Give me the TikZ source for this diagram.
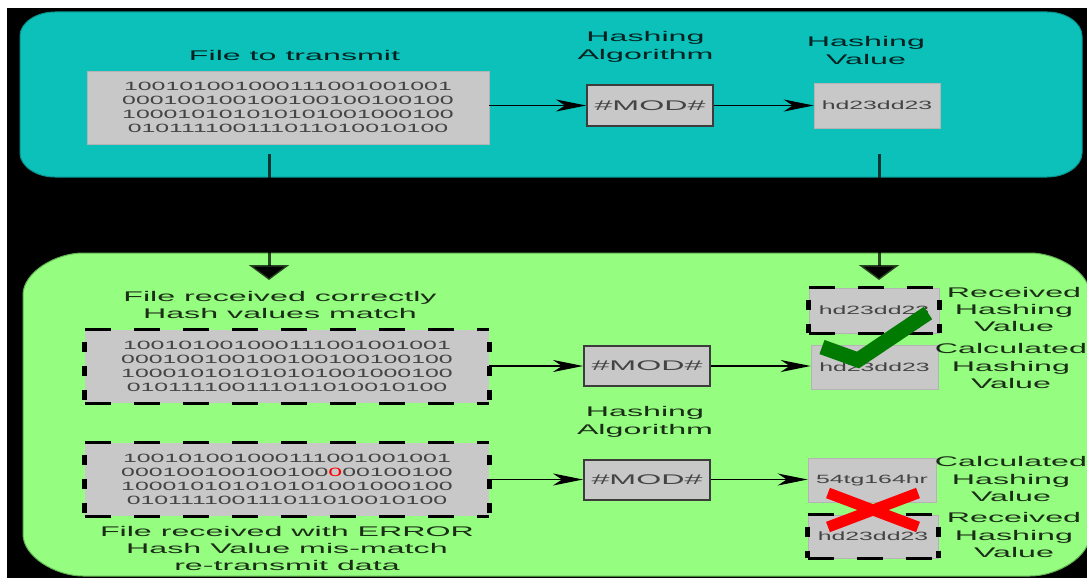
\documentclass[tikz,border=0pt]{standalone}
\usepackage{fontspec}
\setmainfont{Liberation Sans}
\newfontfamily\labfont[FakeStretch=2.3]{Liberation Sans}
\newfontfamily\binfont[FakeStretch=2.07]{Liberation Sans}
\usetikzlibrary{arrows.meta}
\definecolor{tealbg}{HTML}{0BC1BA}
\definecolor{tealedge}{HTML}{08948E}
\definecolor{greenbg}{HTML}{95FD7F}
\definecolor{greenedge}{HTML}{62B552}
\definecolor{boxgray}{HTML}{C8C8C8}
\definecolor{boxedge}{HTML}{B4B4B4}
\definecolor{bintext}{HTML}{444444}
\definecolor{modedge}{HTML}{3C3C3C}
\definecolor{checkgreen}{HTML}{007A00}
\newcommand\dashborder[1]{%
  \draw[hdash] (#1.north west) -- (#1.north east);
  \draw[hdash] (#1.south west) -- (#1.south east);
  \draw[vdash] (#1.north west) -- (#1.south west);
  \draw[vdash] (#1.north east) -- (#1.south east);}
\begin{document}
\begin{tikzpicture}[x=1pt,y=-1pt,
  lab/.style={font={\labfont\fontsize{14pt}{17.3pt}\selectfont}, align=center,
    text=black, text opacity=0.82, inner sep=0pt},
  binbox/.style={fill=boxgray, minimum width=404pt, minimum height=73pt, inner sep=0pt,
    font={\binfont\fontsize{12pt}{14.2pt}\selectfont}, align=center, text=bintext},
  modbox/.style={fill=boxgray, draw=modedge, line width=2pt, minimum width=126pt,
    minimum height=40pt, inner sep=0pt, font={\labfont\fontsize{14pt}{17pt}\selectfont},
    text=bintext},
  hashbox/.style={fill=boxgray, draw=boxedge, line width=0.6pt, minimum width=127pt,
    minimum height=44pt, inner sep=0pt, font={\binfont\fontsize{12pt}{14pt}\selectfont},
    text=bintext},
  hdash/.style={line width=3pt, dash pattern=on 26pt off 23pt},
  vdash/.style={line width=5pt, dash pattern=on 10pt off 14pt, dash phase=12pt},
  arr/.style={line width=1.2pt, -{Stealth[length=30pt,width=12pt,inset=9pt]}},
  downconn/.style={line width=3pt, draw=black, draw opacity=0.72,
    -{Triangle[width=40pt,length=15pt]}},
  checkmark/.style={draw=checkgreen, line width=15pt, line join=miter, line cap=butt},
  crossmark/.style={draw=red, line width=11pt, line cap=butt}]
\useasboundingbox (0,0) rectangle (1087,578);
% background
\fill[white] (0,0) rectangle (1087,578);
\fill[black] (7,8) rectangle (1087,578);
% teal panel
\filldraw[fill=tealbg, draw=tealedge, line width=1pt]
  (55,12) -- (1047,12) .. controls (1066,12) and (1082,23) .. (1082,36)
  -- (1082,153) .. controls (1082,166) and (1066,177) .. (1047,177)
  -- (55,177) .. controls (36,177) and (20,166) .. (20,153)
  -- (20,36) .. controls (20,23) and (36,12) .. cycle;
% green panel
\filldraw[fill=greenbg, draw=greenedge, line width=1pt]
  (83,253) -- (1030,253) .. controls (1057,253) and (1090,272) .. (1090,295)
  -- (1090,534) .. controls (1090,557) and (1057,576) .. (1030,576)
  -- (83,576) .. controls (56,576) and (23,557) .. (23,534)
  -- (23,295) .. controls (23,272) and (56,253) .. cycle;
% connectors between panels
\coordinate (d1s) at (269,154);
\coordinate (d1e) at (269,280);
\coordinate (d2s) at (879,154);
\coordinate (d2e) at (879,280);
\draw[downconn] (d1s) -- (d1e);
\draw[downconn] (d2s) -- (d2e);
% top panel
\node[lab] (filelab) at (294.5,55) {File to transmit};
\node[binbox, minimum width=402pt, minimum height=73pt, draw=boxedge, line width=0.8pt]
  (file) at (288,107.5)
  {100101001000111001001001\\000100100100100100100100\\100010101010101001000100\\010111100111011010010100};
\node[lab] (algolab0) at (645.5,47) {Hashing\\Algorithm};
\node[modbox, minimum height=41pt] (mod0) at (650,105.5) {\#MOD\#};
\node[lab] (hashlab0) at (866,50.5) {Hashing\\Value};
\node[hashbox, minimum width=126pt, minimum height=45pt] (hash0) at (877,105.5) {hd23dd23};
\draw[arr] (mod0.west -| file.east) -- (mod0.west);
\draw[arr] (mod0.east) -- (hash0.west);
% bottom panel, correct file
\node[lab] (oklab) at (280,305) {File received correctly\\Hash values match};
\node[binbox] (okfile) at (287,366.5)
  {100101001000111001001001\\000100100100100100100100\\100010101010101001000100\\010111100111011010010100};
\dashborder{okfile}
\node[modbox] (mod1) at (647,366) {\#MOD\#};
\node[lab] (algolab1) at (645,422) {Hashing\\Algorithm};
\node[hashbox, minimum width=130pt, minimum height=45pt] (recv1) at (874,310.5) {hd23dd23};
\dashborder{recv1}
\node[hashbox] (calc1) at (874.5,367) {hd23dd23};
\node[lab] (recvlab1) at (1014,309.5) {Received\\Hashing\\Value};
\node[lab] (calclab1) at (1011,366) {Calculated\\Hashing\\Value};
\draw[arr] (mod1.west -| okfile.east) -- (mod1.west);
\draw[arr] (mod1.east) -- (mod1.east -| calc1.west);
\draw[checkmark] (822,347) -- (858,360) -- (928,313);
% bottom panel, file with error
\node[binbox] (errfile) at (287,479.5)
  {100101001000111001001001\\000100100100100{\color{red}0}00100100\\100010101010101001000100\\010111100111011010010100};
\dashborder{errfile}
\node[lab, font={\labfont\fontsize{14pt}{16.8pt}\selectfont}] (errlab) at (287,548.5)
  {File received with ERROR\\Hash Value mis-match\\re-transmit data};
\node[modbox] (mod2) at (647,479.5) {\#MOD\#};
\node[hashbox, minimum width=128pt] (calc2) at (872,480) {54tg164hr};
\node[hashbox, minimum width=130pt, minimum height=43pt] (recv2) at (873,536.5) {hd23dd23};
\dashborder{recv2}
\node[lab] (calclab2) at (1011,479) {Calculated\\Hashing\\Value};
\node[lab] (recvlab2) at (1014,535) {Received\\Hashing\\Value};
\draw[arr] (mod2.west -| errfile.east) -- (mod2.west);
\draw[arr] (mod2.east) -- (mod2.east -| calc2.west);
\draw[crossmark] (828,493) -- (918,527);
\draw[crossmark] (828,527) -- (918,493);
\end{tikzpicture}
\end{document}
